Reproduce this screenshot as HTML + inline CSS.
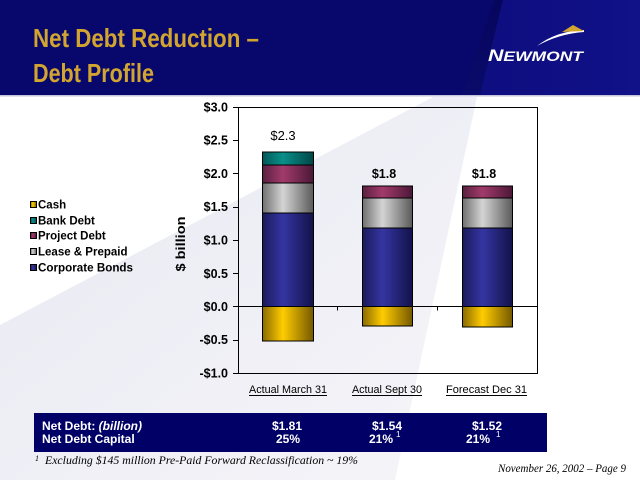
<!DOCTYPE html>
<html><head><meta charset="utf-8"><style>
html,body{margin:0;padding:0;background:#fff;}
svg{display:block;}
text{font-family:"Liberation Sans",Arial,sans-serif;}
.serif{font-family:"Liberation Serif","Times New Roman",serif;font-style:italic;}
</style></head><body>
<svg width="640" height="480" viewBox="0 0 640 480" xmlns="http://www.w3.org/2000/svg">
<defs>
<linearGradient id="beam" x1="0" y1="0" x2="1" y2="1">
<stop offset="0" stop-color="#e8e8f2"/><stop offset="1" stop-color="#f5f5f9"/></linearGradient>
<linearGradient id="hdrR" x1="0" y1="0" x2="1" y2="0">
<stop offset="0" stop-color="#0e0e80"/><stop offset="1" stop-color="#111188"/></linearGradient>
<linearGradient id="streak" x1="0" y1="0" x2="0" y2="1">
<stop offset="0" stop-color="#06065e"/><stop offset="1" stop-color="#0a0a6a"/></linearGradient>
<linearGradient id="gCorp" x1="0" x2="1" y1="0" y2="0">
<stop offset="0" stop-color="#1a1a5c"/><stop offset="0.4" stop-color="#3535a2"/><stop offset="1" stop-color="#12124a"/></linearGradient>
<linearGradient id="gLease" x1="0" x2="1" y1="0" y2="0">
<stop offset="0" stop-color="#707070"/><stop offset="0.4" stop-color="#d4d4d4"/><stop offset="1" stop-color="#5a5a5a"/></linearGradient>
<linearGradient id="gProj" x1="0" x2="1" y1="0" y2="0">
<stop offset="0" stop-color="#5a2040"/><stop offset="0.4" stop-color="#a23a6c"/><stop offset="1" stop-color="#4a1836"/></linearGradient>
<linearGradient id="gBank" x1="0" x2="1" y1="0" y2="0">
<stop offset="0" stop-color="#005858"/><stop offset="0.4" stop-color="#0a8f8a"/><stop offset="1" stop-color="#004646"/></linearGradient>
<linearGradient id="gCash" x1="0" x2="1" y1="0" y2="0">
<stop offset="0" stop-color="#8a6a00"/><stop offset="0.4" stop-color="#ffcc00"/><stop offset="1" stop-color="#745800"/></linearGradient>
</defs>

<!-- background beam -->
<polygon points="433,97 477,97 395,480 0,480 0,325" fill="url(#beam)"/>

<!-- header -->
<rect x="0" y="0" width="640" height="95" fill="#08086c"/>
<polygon points="503,0 640,0 640,95 478,95" fill="url(#hdrR)"/>
<polygon points="494,0 503,0 480,95 462,95" fill="url(#streak)"/>
<rect x="0" y="95" width="640" height="1.5" fill="#c4c4dc"/>

<text x="33" y="47" font-size="26" font-weight="bold" fill="#d2a530" textLength="226" lengthAdjust="spacingAndGlyphs">Net Debt Reduction –</text>
<text x="33" y="82" font-size="26" font-weight="bold" fill="#d2a530" textLength="121" lengthAdjust="spacingAndGlyphs">Debt Profile</text>

<!-- logo -->
<path d="M537,46 Q558,34 584,32 L584,30 Q556,31 537,46 Z" fill="#ffffff"/>
<polygon points="573,25 584,31 562,32" fill="#d2a530"/>
<text x="488" y="61" font-style="italic" font-weight="bold" fill="#ffffff" textLength="95" lengthAdjust="spacingAndGlyphs"><tspan font-size="16.5">N</tspan><tspan font-size="13.5">EWMONT</tspan></text>

<!-- legend -->
<g font-size="11.5" font-weight="bold" fill="#000">
<rect x="30.5" y="201.5" width="6" height="6" fill="url(#gCash)" stroke="#000"/>
<text x="38" y="208.5">Cash</text>
<rect x="30.5" y="217.5" width="6" height="6" fill="url(#gBank)" stroke="#000"/>
<text x="38" y="224.5">Bank Debt</text>
<rect x="30.5" y="232.5" width="6" height="6" fill="url(#gProj)" stroke="#000"/>
<text x="38" y="239.5">Project Debt</text>
<rect x="30.5" y="248.5" width="6" height="6" fill="url(#gLease)" stroke="#000"/>
<text x="38" y="255.5">Lease &amp; Prepaid</text>
<rect x="30.5" y="264.5" width="6" height="6" fill="url(#gCorp)" stroke="#000"/>
<text x="38" y="271.5" textLength="95" lengthAdjust="spacingAndGlyphs">Corporate Bonds</text>
</g>

<!-- y axis title -->
<text transform="translate(185,244) rotate(-90)" text-anchor="middle" font-size="13" font-weight="bold" textLength="55" lengthAdjust="spacingAndGlyphs">$ billion</text>

<!-- y labels -->
<g font-size="12.5" font-weight="bold" text-anchor="end">
<text x="228" y="111.5">$3.0</text>
<text x="228" y="144.5">$2.5</text>
<text x="228" y="178">$2.0</text>
<text x="228" y="211">$1.5</text>
<text x="228" y="244.5">$1.0</text>
<text x="228" y="278">$0.5</text>
<text x="228" y="311">$0.0</text>
<text x="228" y="344">-$0.5</text>
<text x="228" y="377.5">-$1.0</text>
</g>
<g stroke="#000" stroke-width="1">
<line x1="233" y1="107.5" x2="238" y2="107.5"/>
<line x1="233" y1="140.5" x2="238" y2="140.5"/>
<line x1="233" y1="173.5" x2="238" y2="173.5"/>
<line x1="233" y1="207.5" x2="238" y2="207.5"/>
<line x1="233" y1="240.5" x2="238" y2="240.5"/>
<line x1="233" y1="273.5" x2="238" y2="273.5"/>
<line x1="233" y1="306.5" x2="238" y2="306.5"/>
<line x1="233" y1="340.5" x2="238" y2="340.5"/>
<line x1="233" y1="373.5" x2="238" y2="373.5"/>
</g>

<!-- bars -->
<g stroke="#000" stroke-width="1">
<rect x="262.5" y="306.5" width="51" height="34.5" fill="url(#gCash)"/>
<rect x="262.5" y="213" width="51" height="93.5" fill="url(#gCorp)"/>
<rect x="262.5" y="183" width="51" height="30" fill="url(#gLease)"/>
<rect x="262.5" y="165" width="51" height="18" fill="url(#gProj)"/>
<rect x="262.5" y="152" width="51" height="13" fill="url(#gBank)"/>
<rect x="362.5" y="306.5" width="50" height="19.5" fill="url(#gCash)"/>
<rect x="362.5" y="228" width="50" height="78.5" fill="url(#gCorp)"/>
<rect x="362.5" y="198" width="50" height="30" fill="url(#gLease)"/>
<rect x="362.5" y="186" width="50" height="12" fill="url(#gProj)"/>
<rect x="462.5" y="306.5" width="50" height="20.5" fill="url(#gCash)"/>
<rect x="462.5" y="228" width="50" height="78.5" fill="url(#gCorp)"/>
<rect x="462.5" y="198" width="50" height="30" fill="url(#gLease)"/>
<rect x="462.5" y="186" width="50" height="12" fill="url(#gProj)"/>
</g>

<!-- frame + zero line -->
<rect x="238.5" y="107.5" width="299" height="266" fill="none" stroke="#000" stroke-width="1"/>
<line x1="238" y1="306.5" x2="537" y2="306.5" stroke="#000" stroke-width="1"/>
<line x1="337.5" y1="306.5" x2="337.5" y2="310.5" stroke="#000"/>
<line x1="437.5" y1="306.5" x2="437.5" y2="310.5" stroke="#000"/>

<!-- data labels -->
<text x="283" y="140" font-size="13" text-anchor="middle">$2.3</text>
<text x="384" y="178" font-size="12.5" font-weight="bold" text-anchor="middle">$1.8</text>
<text x="484" y="178" font-size="12.5" font-weight="bold" text-anchor="middle">$1.8</text>

<!-- x labels -->
<g font-size="11">
<text x="249" y="393" textLength="78" lengthAdjust="spacingAndGlyphs">Actual March 31</text>
<text x="352" y="393" textLength="70" lengthAdjust="spacingAndGlyphs">Actual Sept 30</text>
<text x="446" y="393" textLength="81" lengthAdjust="spacingAndGlyphs">Forecast Dec 31</text>
</g>
<g stroke="#000" stroke-width="1">
<line x1="249" y1="395.5" x2="327" y2="395.5"/>
<line x1="352" y1="395.5" x2="422" y2="395.5"/>
<line x1="446" y1="395.5" x2="527" y2="395.5"/>
</g>

<!-- table -->
<rect x="34" y="413" width="513" height="39" fill="#000066"/>
<g font-size="12" font-weight="bold" fill="#ffffff">
<text x="42" y="430">Net Debt: <tspan font-style="italic">(billion)</tspan></text>
<text x="42" y="443">Net Debt Capital</text>
<text x="287" y="430" text-anchor="middle">$1.81</text>
<text x="288" y="443" text-anchor="middle">25%</text>
<text x="387" y="430" text-anchor="middle">$1.54</text>
<text x="393" y="443" text-anchor="end">21%</text>
<text x="396" y="437" font-size="8" font-weight="normal">1</text>
<text x="487" y="430" text-anchor="middle">$1.52</text>
<text x="490" y="443" text-anchor="end">21%</text>
<text x="496" y="437" font-size="8" font-weight="normal">1</text>
</g>

<!-- footnote -->
<text class="serif" x="35" y="461" font-size="8">1</text>
<text class="serif" x="45" y="464" font-size="11.5" textLength="313" lengthAdjust="spacingAndGlyphs">Excluding $145 million Pre-Paid Forward Reclassification ~ 19%</text>
<text class="serif" x="498" y="472" font-size="12" textLength="128" lengthAdjust="spacingAndGlyphs">November 26, 2002 – Page 9</text>
</svg>
</body></html>
